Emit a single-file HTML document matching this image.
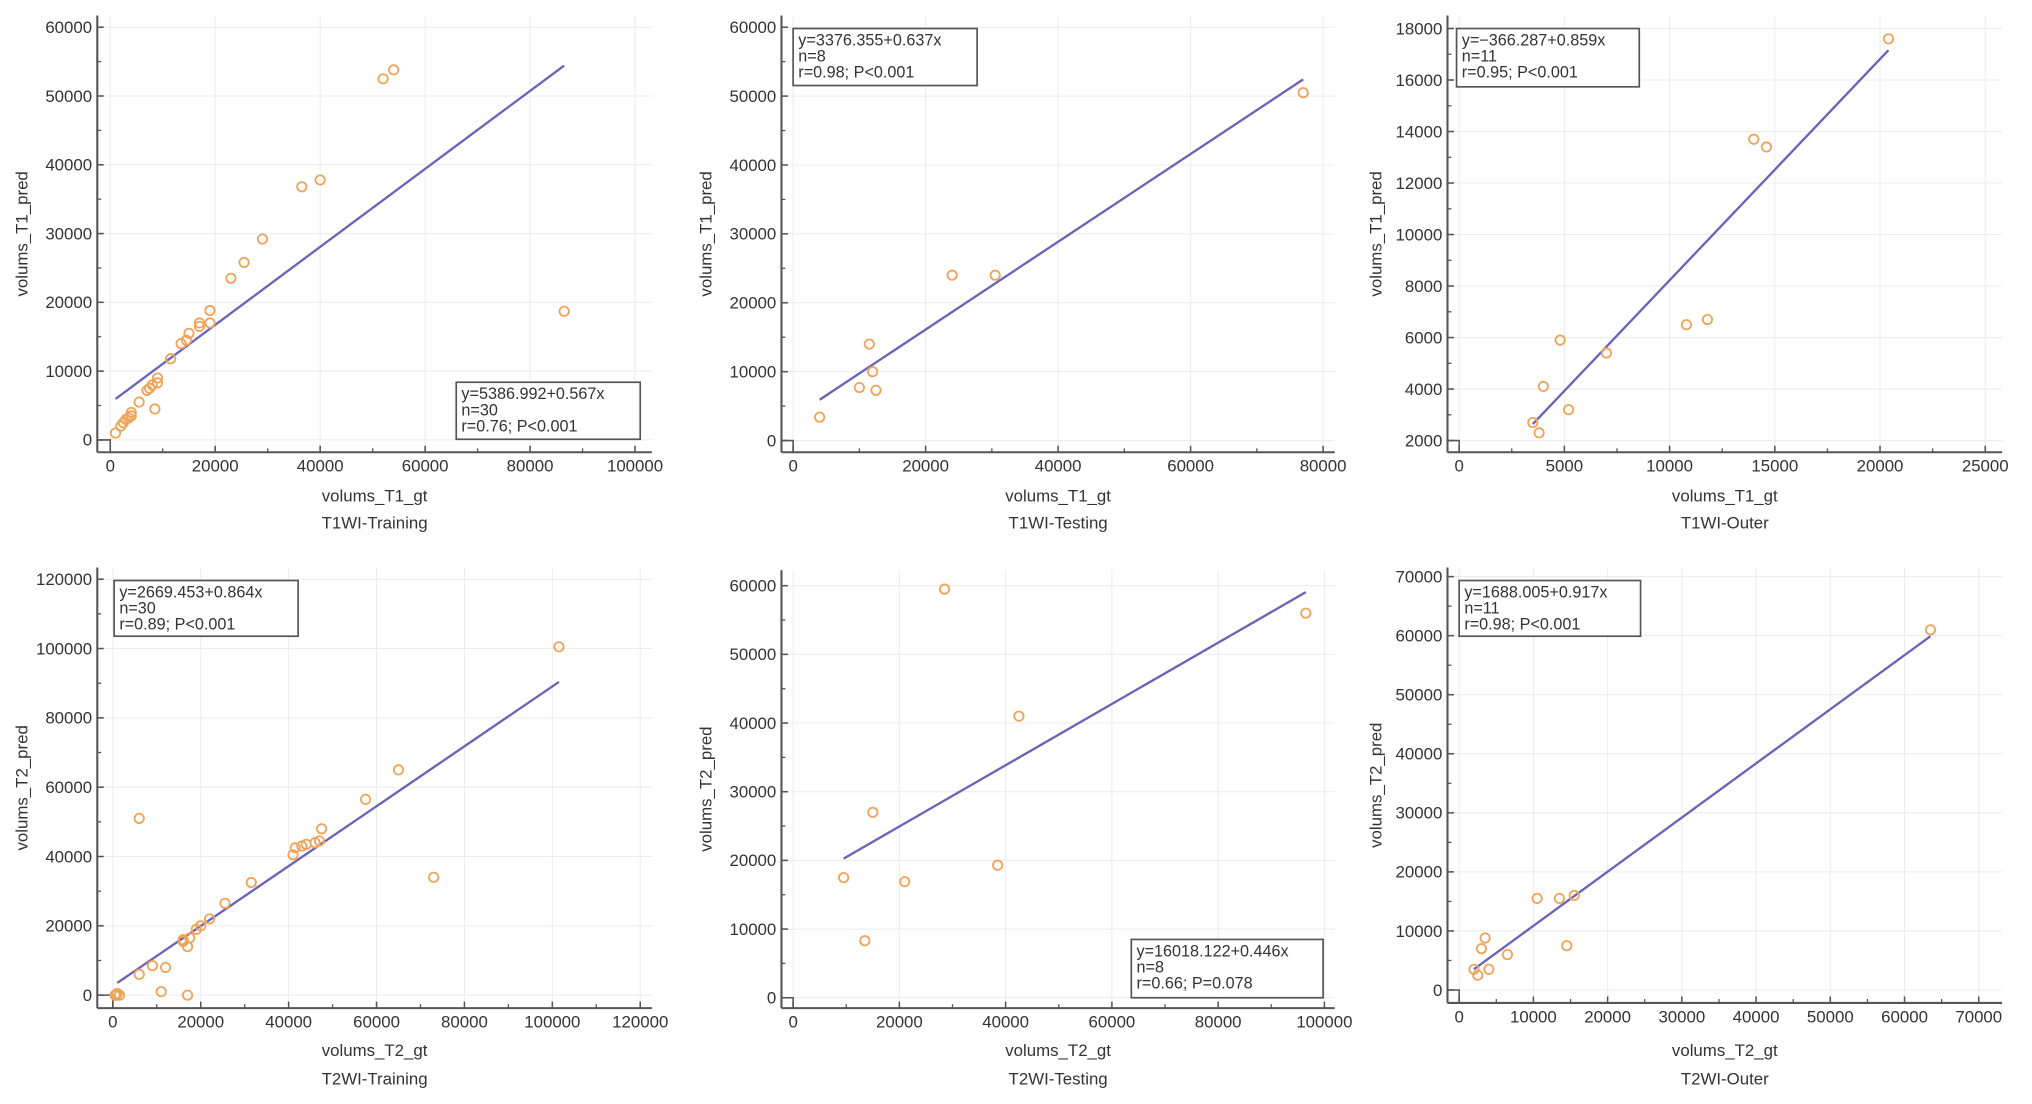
<!DOCTYPE html>
<html><head><meta charset="utf-8">
<style>
html,body{margin:0;padding:0;background:#fff;}
svg{display:block;font-family:"Liberation Sans",sans-serif;}
</style></head>
<body>
<svg id="root" width="2032" height="1104" viewBox="0 0 1568 852" xmlns="http://www.w3.org/2000/svg"></svg>
<script>
// ---- data ----
const p1x=[1000,2000,2500,3000,4000,4000,3500,5500,7500,8000,7000,8500,9000,9000,11500,13500,14500,15000,17000,17000,19000,19000,23000,25500,29000,36500,40000,52000,54000,86500];
const p1y=[1000,2000,2500,3000,4000,3500,3200,5500,7500,8000,7200,4500,9000,8300,11800,14000,14500,15500,17000,16500,18800,17000,23500,25800,29200,36800,37800,52500,53800,18700];
const p2x=[4000,10000,11500,12000,12500,24000,30500,77000];
const p2y=[3400,7700,14000,10000,7300,24000,24000,50500];
const p3x=[3500,3800,4000,4800,5200,7000,10800,11800,14000,14600,20400];
const p3y=[2700,2300,4100,5900,3200,5400,6500,6700,13700,13400,17600];
const p4x=[500,1000,1500,800,6000,6000,9000,11000,12000,16000,16000,17000,17000,17500,19000,20000,22000,25500,31500,41000,41500,43000,44000,46000,47000,47500,57500,65000,73000,101500];
const p4y=[0,500,0,0,6000,51000,8500,1000,8000,16000,15500,14000,0,16500,19000,20000,22000,26500,32500,40500,42500,43000,43500,44000,44500,48000,56500,65000,34000,100500];
const p5x=[9500,13500,15000,21000,28500,38500,42500,96500];
const p5y=[17500,8300,27000,16900,59500,19300,41000,56000];
const p6x=[2000,2500,3000,3500,4000,6500,10500,13500,14500,15500,63500];
const p6y=[3500,2500,7000,8800,3500,6000,15500,15500,7500,16000,61000];
const xticks1=[0,20000,40000,60000,80000,100000];
const yticks1=[0,10000,20000,30000,40000,50000,60000];
const xticks2=[0,20000,40000,60000,80000];
const xticks3=[0,5000,10000,15000,20000,25000];
const yticks3=[2000,4000,6000,8000,10000,12000,14000,16000,18000];
const xticks4=[0,20000,40000,60000,80000,100000,120000];
const yticks4=[0,20000,40000,60000,80000,100000,120000];
const xticks5=[0,20000,40000,60000,80000,100000];
const yticks5=[0,10000,20000,30000,40000,50000,60000];
const xticks6=[0,10000,20000,30000,40000,50000,60000,70000];
const yticks6=[0,10000,20000,30000,40000,50000,60000,70000];
const fits=[[5386.992,0.567],[3376.355,0.637],[-366.287,0.859],[2669.453,0.864],[16018.122,0.446],[1688.005,0.917]];
const stats=[["y=5386.992+0.567x","n=30","r=0.76; P<0.001"],["y=3376.355+0.637x","n=8","r=0.98; P<0.001"],["y=\u2212366.287+0.859x","n=11","r=0.95; P<0.001"],["y=2669.453+0.864x","n=30","r=0.89; P<0.001"],["y=16018.122+0.446x","n=8","r=0.66; P=0.078"],["y=1688.005+0.917x","n=11","r=0.98; P<0.001"]];

const NS="http://www.w3.org/2000/svg";
const root=document.getElementById('root');
function mk(tag,attrs,parent){const e=document.createElementNS(NS,tag);for(const k in attrs)e.setAttribute(k,attrs[k]);(parent||root).appendChild(e);return e;}

const panels=[
 {xs:p1x,ys:p1y,xt:xticks1,yt:yticks1,ax:75,ab:349,at:12,ar:503,x0:85,x1:490,xv1:100000,y0:339.5,y1:21,yv0:0,yv1:60000,xl:"volums_T1_gt",yl:"volums_T1_pred",title:"T1WI-Training",box:[352,295,142,44],lr:[1000,86500],ly:383,ty:404,ylx:17,name:"t1-training"},
 {xs:p2x,ys:p2y,xt:xticks2,yt:yticks1,ax:603,ab:349,at:12,ar:1030,x0:612,x1:1021,xv1:80000,y0:340,y1:21,yv0:0,yv1:60000,xl:"volums_T1_gt",yl:"volums_T1_pred",title:"T1WI-Testing",box:[612,22,142,44],lr:[4000,77000],ly:383,ty:404,ylx:545,name:"t1-testing"},
 {xs:p3x,ys:p3y,xt:xticks3,yt:yticks3,ax:1117,ab:349,at:12,ar:1545,x0:1126,x1:1532,xv1:25000,y0:340,y1:22,yv0:2000,yv1:18000,xl:"volums_T1_gt",yl:"volums_T1_pred",title:"T1WI-Outer",box:[1124,22,141,45],lr:[3500,20400],ly:383,ty:404,ylx:1062,name:"t1-outer"},
 {xs:p4x,ys:p4y,xt:xticks4,yt:yticks4,ax:75,ab:778,at:438,ar:503,x0:87,x1:494,xv1:120000,y0:768,y1:447,yv0:0,yv1:120000,xl:"volums_T2_gt",yl:"volums_T2_pred",title:"T2WI-Training",box:[88,448,142,43],lr:[1000,101500],ly:811,ty:833,ylx:17,name:"t2-training"},
 {xs:p5x,ys:p5y,xt:xticks5,yt:yticks5,ax:603,ab:778,at:440,ar:1030,x0:612,x1:1022,xv1:100000,y0:770,y1:452,yv0:0,yv1:60000,xl:"volums_T2_gt",yl:"volums_T2_pred",title:"T2WI-Testing",box:[873,725,148,45],lr:[9500,96500],ly:811,ty:833,ylx:545,name:"t2-testing"},
 {xs:p6x,ys:p6y,xt:xticks6,yt:yticks6,ax:1117,ab:774,at:438,ar:1545,x0:1126,x1:1527,xv1:70000,y0:764,y1:445,yv0:0,yv1:70000,xl:"volums_T2_gt",yl:"volums_T2_pred",title:"T2WI-Outer",box:[1126,448,140,43],lr:[2000,63500],ly:811,ty:833,ylx:1062,name:"t2-outer"}
];

panels.forEach((p,i)=>{
  const g=mk('g',{});
  
  
  const X=v=>p.x0+(v-p.xt[0])/(p.xv1-p.xt[0])*(p.x1-p.x0);
  const Y=v=>p.y0+(v-p.yv0)/(p.yv1-p.yv0)*(p.y1-p.y0);
  const step=p.xt[1]-p.xt[0], ystep=p.yt[1]-p.yt[0];
  p.xt.forEach(t=>{const gl=mk('line',{x1:X(t),x2:X(t),y1:p.at,y2:p.ab-2,stroke:'#ececec','stroke-width':0.8},g);});
  p.yt.forEach(t=>{const gl=mk('line',{x1:p.ax+2,x2:p.ar,y1:Y(t),y2:Y(t),stroke:'#ececec','stroke-width':0.8},g);});
  const xa=mk('line',{x1:p.ax,x2:p.ar,y1:p.ab,y2:p.ab,stroke:'#555','stroke-width':1.6},g);
  
  const ya=mk('line',{x1:p.ax,x2:p.ax,y1:p.at,y2:p.ab,stroke:'#555','stroke-width':1.6},g);
  
  mk('path',{d:`M${p.ax} ${p.y0}H${p.x0}V${p.ab}`,fill:'none',stroke:'#555','stroke-width':1.2},g);
  p.xt.forEach((t,k)=>{
    mk('line',{x1:X(t),x2:X(t),y1:p.ab,y2:p.ab-5,stroke:'#555','stroke-width':1.2},g);
    if(k<p.xt.length-1) mk('line',{x1:X(t+step/2),x2:X(t+step/2),y1:p.ab,y2:p.ab-3,stroke:'#555','stroke-width':1},g);
    const tx=mk('text',{x:X(t),y:p.ab+15,'font-size':13,fill:'#333','text-anchor':'middle'},g);tx.textContent=t;
    
  });
  p.yt.forEach((t,k)=>{
    mk('line',{x1:p.ax,x2:p.ax+5,y1:Y(t),y2:Y(t),stroke:'#555','stroke-width':1.2},g);
    if(k<p.yt.length-1) mk('line',{x1:p.ax,x2:p.ax+3,y1:Y(t+ystep/2),y2:Y(t+ystep/2),stroke:'#555','stroke-width':1},g);
    const ty=mk('text',{x:p.ax-4,y:Y(t)+4.5,'font-size':13,fill:'#333','text-anchor':'end'},g);ty.textContent=t;
    
  });
  const cx=(p.ax+p.ar)/2;
  const xl=mk('text',{x:cx,y:p.ly+4,'font-size':13,fill:'#333','text-anchor':'middle'},g);xl.textContent=p.xl;
  
  const tl=mk('text',{x:cx,y:p.ty+4,'font-size':13,fill:'#333','text-anchor':'middle'},g);tl.textContent=p.title;
  
  const cy=(p.at+p.ab)/2;
  const yl=mk('text',{x:p.ylx+4,y:cy,'font-size':13,fill:'#333','text-anchor':'middle',transform:`rotate(-90 ${p.ylx+4} ${cy})`},g);yl.textContent=p.yl;
  
  const f=fits[i];
  const rl=mk('line',{x1:X(p.lr[0]),y1:Y(f[0]+f[1]*p.lr[0]),x2:X(p.lr[1]),y2:Y(f[0]+f[1]*p.lr[1]),stroke:'#6b63b5','stroke-width':1.8},g);
  
  p.xs.forEach((v,k)=>{
    const c=mk('circle',{cx:X(v),cy:Y(p.ys[k]),r:3.6,fill:'none',stroke:'#f0a45a','stroke-width':1.4},g);
    
    
  });
  const b=p.box;
  const bg=mk('g',{},g);
  
  mk('rect',{x:b[0],y:b[1],width:b[2],height:b[3],fill:'#fff',stroke:'#555','stroke-width':1.3},bg);
  stats[i].forEach((s,k)=>{const t=mk('text',{x:b[0]+4,y:b[1]+13+k*12.5,'font-size':12.5,fill:'#333'},bg);t.textContent=s;});
});
</script>
</body></html>
